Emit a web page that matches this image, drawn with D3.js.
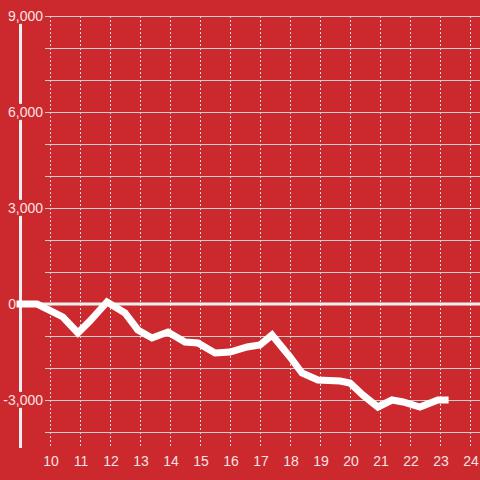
<!DOCTYPE html>
<html><head><meta charset="utf-8">
<script src="https://cdn.jsdelivr.net/npm/d3@7"></script>
<style>html,body{margin:0;padding:0;background:#cc292e;}svg{display:block;}</style>
</head><body>
<svg id="c" width="480" height="480"></svg>
<script>
const xs = [9.0, 9.57, 10.43, 10.93, 11.33, 11.9, 12.5, 12.93, 13.4, 13.93, 14.5, 14.93, 15.5, 16.0, 16.57, 17.0, 17.4, 18.0, 18.4, 18.93, 19.67, 20.0, 20.43, 20.93, 21.4, 21.77, 22.33, 22.93, 23.17];
const ys = [0, 0, -406, -906, -531, 62, -281, -812, -1062, -875, -1187, -1219, -1531, -1500, -1344, -1281, -969, -1656, -2156, -2375, -2406, -2469, -2844, -3219, -3000, -3062, -3219, -3000, -3000];
const xTicks = [10, 11, 12, 13, 14, 15, 16, 17, 18, 19, 20, 21, 22, 23, 24];
const yGrid = [9000, 8000, 7000, 6000, 5000, 4000, 3000, 2000, 1000, 0, -1000, -2000, -3000, -4000];
const yLabels = [9000, 6000, 3000, 0, -3000];

const svg = d3.select("#c");
const x = d3.scaleLinear().domain([9, 24]).range([20, 470]);
const y = d3.scaleLinear().domain([-4000, 9000]).range([432, 16]);
const fmt = d3.format(",");
const bg = "#cc292e";

// vertical dashed grid
svg.append("g").selectAll("line").data(xTicks).join("line")
  .attr("x1", d => Math.round(x(d)) + 0.5).attr("x2", d => Math.round(x(d)) + 0.5)
  .attr("y1", 16).attr("y2", 448)
  .attr("stroke", "#dcdcdc").attr("stroke-width", 1).attr("stroke-dasharray", "2,2");

// horizontal grid
svg.append("g").selectAll("line").data(yGrid.filter(d => d !== 0)).join("line")
  .attr("x1", 45).attr("x2", 480)
  .attr("y1", d => Math.round(y(d)) + 0.5).attr("y2", d => Math.round(y(d)) + 0.5)
  .attr("stroke", "#cfcfcf").attr("stroke-width", 1);

// y axis bar
svg.append("line").attr("x1", 20.5).attr("x2", 20.5).attr("y1", 16).attr("y2", 448)
  .attr("stroke", "#efefef").attr("stroke-width", 3);

// zero line
svg.append("line").attr("x1", 17).attr("x2", 480).attr("y1", y(0)).attr("y2", y(0))
  .attr("stroke", "#efefef").attr("stroke-width", 3);

// y labels with background
const yl = svg.append("g");
yLabels.forEach(v => {
  const t = yl.append("text").attr("x", v === 0 ? 16 : 43).attr("y", y(v)).attr("dy", "0.35em")
    .attr("text-anchor", "end").attr("font-family", "'Liberation Sans', Arial, sans-serif")
    .attr("font-size", 14).attr("fill", "#f8e2e2").text(fmt(v).replace("−", "-"));
  const b = t.node().getBBox();
  yl.insert("rect", "text").attr("x", b.x - 1).attr("y", b.y).attr("width", b.width + 2).attr("height", b.height)
    .attr("fill", bg);
});

// x labels
svg.append("g").selectAll("text").data(xTicks).join("text")
  .attr("x", d => x(d) + 1).attr("y", 466)
  .attr("text-anchor", "middle").attr("font-family", "'Liberation Sans', Arial, sans-serif")
  .attr("font-size", 14).attr("fill", "#f8e2e2").text(d => d);

// line
const data = xs.map((d, i) => [d, ys[i]]);
svg.append("path").datum(data)
  .attr("d", d3.line().x(d => x(d[0])).y(d => y(d[1])))
  .attr("fill", "none").attr("stroke", "#ffffff").attr("stroke-width", 7)
  .attr("stroke-linecap", "square").attr("stroke-linejoin", "miter");
</script>
</body></html>
